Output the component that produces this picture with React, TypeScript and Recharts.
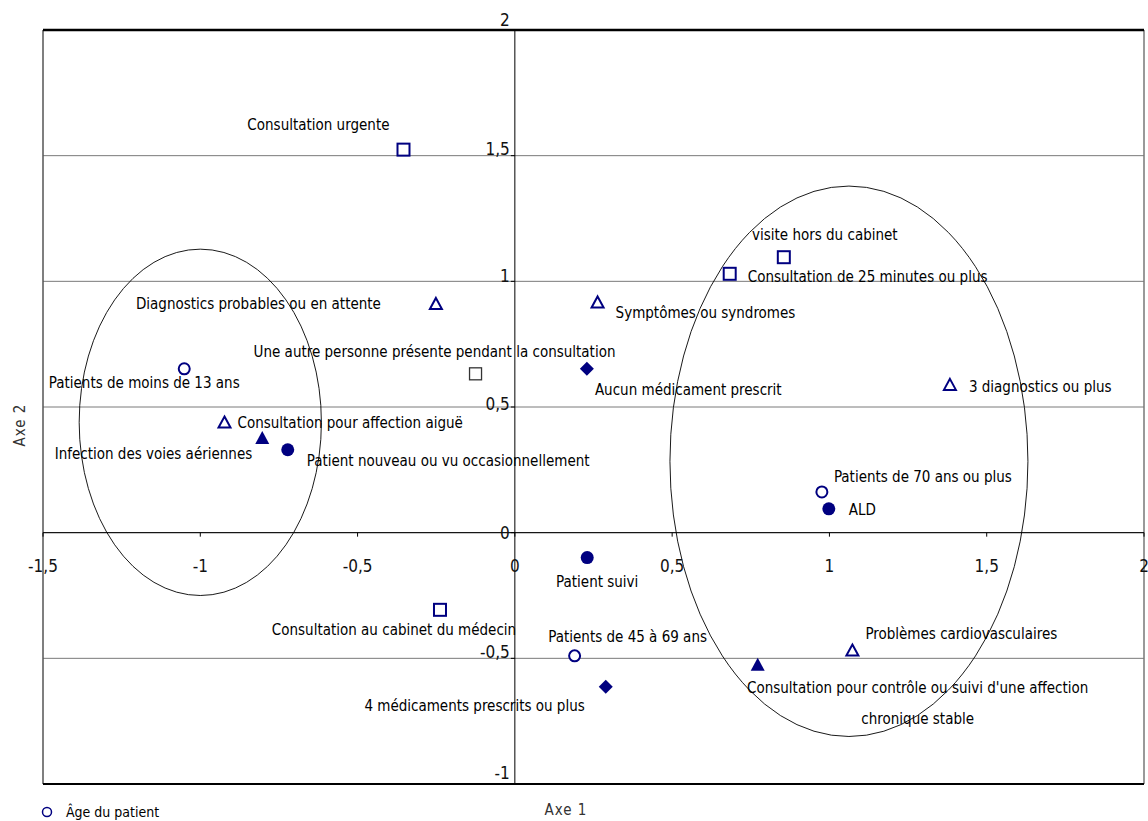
import React from "react";
import {
  ScatterChart,
  Scatter,
  XAxis,
  YAxis,
  CartesianGrid,
  ReferenceLine,
} from "recharts";

const NAVY = "#000080";
const FONT = "'Liberation Sans Narrow', 'Arial Narrow', 'DejaVu Sans Condensed', sans-serif";

// series: names + coordinates
const ageNames = ["Patients de moins de 13 ans", "Patients de 45 à 69 ans", "Patients de 70 ans ou plus"];
const ageX = [-1.051, 0.19, 0.976];
const ageY = [0.652, -0.49, 0.162];

const statutNames = ["Patient nouveau ou vu occasionnellement", "ALD", "Patient suivi"];
const statutX = [-0.722, 0.998, 0.23];
const statutY = [0.33, 0.095, -0.099];

const consultNames = [
  "Consultation urgente",
  "visite hors du cabinet",
  "Consultation de 25 minutes ou plus",
  "Consultation au cabinet du médecin",
];
const consultX = [-0.354, 0.855, 0.683, -0.238];
const consultY = [1.524, 1.096, 1.03, -0.307];

const tiersNames = ["Une autre personne présente pendant la consultation"];
const tiersX = [-0.125];
const tiersY = [0.632];

const diagNames = [
  "Diagnostics probables ou en attente",
  "Symptômes ou syndromes",
  "3 diagnostics ou plus",
  "Consultation pour affection aiguë",
  "Problèmes cardiovasculaires",
];
const diagX = [-0.251, 0.263, 1.383, -0.923, 1.073];
const diagY = [0.91, 0.916, 0.588, 0.438, -0.469];

const motifNames = [
  "Infection des voies aériennes",
  "Consultation pour contrôle ou suivi d'une affection chronique stable",
];
const motifX = [-0.803, 0.772];
const motifY = [0.377, -0.526];

const medNames = ["Aucun médicament prescrit", "4 médicaments prescrits ou plus"];
const medX = [0.229, 0.289];
const medY = [0.652, -0.613];

// the two groupings drawn as ellipses (centre and half-axes, data units)
const ellipseX = [-1.0, 1.062];
const ellipseY = [0.439, 0.284];
const ellipseRx = [0.385, 0.569];
const ellipseRy = [0.689, 1.095];

const xTicks = [-1.5, -1, -0.5, 0, 0.5, 1, 1.5, 2];
const yTicks = [-1, -0.5, 0, 0.5, 1, 1.5, 2];

const build = (names: string[], xs: number[], ys: number[]) =>
  names.map((name, i) => ({ name, x: xs[i], y: ys[i] }));

// chart geometry
const W = 1148;
const H = 821;
const M = { top: 30, right: 4, bottom: 0, left: 0 };
const Y_AXIS_W = 43;
const X_AXIS_H = 37;
const plotLeft = M.left + Y_AXIS_W;
const plotW = W - M.right - plotLeft;
const plotH = H - M.top - X_AXIS_H;
const pxX = plotW / 3.5;
const pxY = plotH / 3;
const zeroX = plotLeft + 1.5 * pxX;
const zeroY = M.top + 2 * pxY;

// label placement around each point
type Lab = { dx: number; dy: number; anchor: "start" | "middle" | "end"; lines?: string[] };
const labels: Record<string, Lab> = {
  "Consultation urgente": { dx: -14, dy: -25, anchor: "end" },
  "visite hors du cabinet": { dx: 41, dy: -22, anchor: "middle" },
  "Consultation de 25 minutes ou plus": { dx: 18, dy: 3, anchor: "start" },
  "Diagnostics probables ou en attente": { dx: -55, dy: 0, anchor: "end" },
  "Symptômes ou syndromes": { dx: 18, dy: 11, anchor: "start" },
  "Une autre personne présente pendant la consultation": { dx: -41, dy: -22, anchor: "middle" },
  "Aucun médicament prescrit": { dx: 8, dy: 21, anchor: "start" },
  "3 diagnostics ou plus": { dx: 19, dy: 2, anchor: "start" },
  "Patients de moins de 13 ans": { dx: -40, dy: 14, anchor: "middle" },
  "Consultation pour affection aiguë": { dx: 13, dy: 0, anchor: "start" },
  "Infection des voies aériennes": { dx: -10, dy: 16, anchor: "end" },
  "Patient nouveau ou vu occasionnellement": { dx: 19, dy: 11, anchor: "start" },
  "Patients de 70 ans ou plus": { dx: 12, dy: -15, anchor: "start" },
  ALD: { dx: 20, dy: 1, anchor: "start" },
  "Patient suivi": { dx: 10, dy: 24, anchor: "middle" },
  "Consultation au cabinet du médecin": { dx: -46, dy: 20, anchor: "middle" },
  "Patients de 45 à 69 ans": { dx: 53, dy: -19, anchor: "middle" },
  "Problèmes cardiovasculaires": { dx: 13, dy: -17, anchor: "start" },
  "Consultation pour contrôle ou suivi d'une affection chronique stable": {
    dx: 160,
    dy: 23,
    anchor: "middle",
    lines: ["Consultation pour contrôle ou suivi d'une affection", "chronique stable"],
  },
  "4 médicaments prescrits ou plus": { dx: -21, dy: 19, anchor: "end" },
};

// y tick labels sit a little above their gridline, as in the source figure
const yLabelLift: Record<string, number> = { "2": 10, "1.5": 7, "1": 5, "0.5": 3, "0": 0, "-0.5": 6, "-1": 11 };

type Kind = "circleOpen" | "circleFilled" | "squareOpen" | "squareGray" | "triOpen" | "triFilled" | "diamond";

const Marker = ({ kind, cx, cy }: { kind: Kind; cx: number; cy: number }) => {
  switch (kind) {
    case "circleOpen":
      return <circle cx={cx} cy={cy} r={5.5} fill="#fff" stroke={NAVY} strokeWidth={2} />;
    case "circleFilled":
      return <circle cx={cx} cy={cy} r={6.5} fill={NAVY} />;
    case "squareOpen":
      return <rect x={cx - 6} y={cy - 6} width={12} height={12} fill="#fff" stroke={NAVY} strokeWidth={2} />;
    case "squareGray":
      return <rect x={cx - 6} y={cy - 6} width={12} height={12} fill="#fff" stroke="#333" strokeWidth={1.3} />;
    case "triOpen":
      return (
        <polygon
          points={`${cx},${cy - 6} ${cx + 6},${cy + 5} ${cx - 6},${cy + 5}`}
          fill="#fff"
          stroke={NAVY}
          strokeWidth={2}
        />
      );
    case "triFilled":
      return <polygon points={`${cx},${cy - 7} ${cx + 7},${cy + 6} ${cx - 7},${cy + 6}`} fill={NAVY} />;
    case "diamond":
      return <polygon points={`${cx},${cy - 7} ${cx + 7},${cy} ${cx},${cy + 7} ${cx - 7},${cy}`} fill={NAVY} />;
  }
  return null;
};

const pointShape = (kind: Kind) => (props: any) => {
  const { cx, cy, payload } = props;
  const lab = labels[payload.name];
  const lines = lab?.lines ?? [payload.name];
  return (
    <g>
      <Marker kind={kind} cx={cx} cy={cy} />
      {lab && (
        <text
          x={cx + lab.dx}
          y={cy + lab.dy}
          textAnchor={lab.anchor}
          dominantBaseline="central"
          fontFamily={FONT}
          fontSize={15}
          fill="#000"
        >
          {lines.map((l, i) => (
            <tspan key={i} x={cx + lab.dx} dy={i === 0 ? 0 : 31}>
              {l}
            </tspan>
          ))}
        </text>
      )}
    </g>
  );
};

const ellipseShape = (props: any) => {
  const { cx, cy, payload } = props;
  return (
    <ellipse
      cx={cx}
      cy={cy}
      rx={payload.rx * pxX}
      ry={payload.ry * pxY}
      fill="none"
      stroke="#000"
      strokeWidth={0.9}
    />
  );
};

const fmt = (v: number) => String(v).replace(".", ",");

const XTick = (props: any) => {
  const { x, payload } = props;
  return (
    <g>
      <line x1={x} x2={x} y1={zeroY} y2={zeroY + 4} stroke="#000" />
      <text x={x} y={zeroY + 39} textAnchor="middle" fontFamily={FONT} fontSize={17} fill="#111">
        {fmt(payload.value)}
      </text>
    </g>
  );
};

const YTick = (props: any) => {
  const { y, payload } = props;
  const lift = yLabelLift[String(payload.value)] ?? 4;
  return (
    <g>
      <line x1={zeroX - 4} x2={zeroX} y1={y} y2={y} stroke="#000" />
      <text x={zeroX - 5} y={y + 6 - lift} textAnchor="end" fontFamily={FONT} fontSize={17} fill="#111">
        {fmt(payload.value)}
      </text>
    </g>
  );
};

export default function App() {
  const ellipses = ellipseX.map((x, i) => ({ x, y: ellipseY[i], rx: ellipseRx[i], ry: ellipseRy[i] }));
  return (
    <div style={{ position: "absolute", left: 0, top: 0, width: W, height: H, overflow: "hidden", background: "#fff" }}>
      <ScatterChart width={W} height={H} margin={M}>
        <CartesianGrid vertical={false} stroke="#7a7a7a" strokeWidth={1} />
        <XAxis
          type="number"
          dataKey="x"
          domain={[-1.5, 2]}
          ticks={xTicks}
          interval={0}
          height={X_AXIS_H}
          axisLine={false}
          tickLine={false}
          tick={<XTick />}
          allowDataOverflow
        />
        <YAxis
          type="number"
          dataKey="y"
          domain={[-1, 2]}
          ticks={yTicks}
          interval={0}
          width={Y_AXIS_W}
          axisLine={false}
          tickLine={false}
          tick={<YTick />}
          allowDataOverflow
        />
        <ReferenceLine x={-1.5} stroke="#555" strokeWidth={1.5} />
        <ReferenceLine x={2} stroke="#777" strokeWidth={1.5} />
        <ReferenceLine y={2} stroke="#000" strokeWidth={2.5} />
        <ReferenceLine y={-1} stroke="#000" strokeWidth={2} />
        <ReferenceLine y={0} stroke="#000" strokeWidth={1} />
        <ReferenceLine x={0} stroke="#000" strokeWidth={1} />
        <Scatter name="groupes" data={ellipses} shape={ellipseShape} isAnimationActive={false} legendType="none" />
        <Scatter name="Âge du patient" data={build(ageNames, ageX, ageY)} shape={pointShape("circleOpen")} isAnimationActive={false} />
        <Scatter name="Statut du patient" data={build(statutNames, statutX, statutY)} shape={pointShape("circleFilled")} isAnimationActive={false} />
        <Scatter name="Type de consultation" data={build(consultNames, consultX, consultY)} shape={pointShape("squareOpen")} isAnimationActive={false} />
        <Scatter name="Présence d'un tiers" data={build(tiersNames, tiersX, tiersY)} shape={pointShape("squareGray")} isAnimationActive={false} />
        <Scatter name="Diagnostics" data={build(diagNames, diagX, diagY)} shape={pointShape("triOpen")} isAnimationActive={false} />
        <Scatter name="Motif" data={build(motifNames, motifX, motifY)} shape={pointShape("triFilled")} isAnimationActive={false} />
        <Scatter name="Médicaments" data={build(medNames, medX, medY)} shape={pointShape("diamond")} isAnimationActive={false} />
        <text x={566} y={815} textAnchor="middle" fontFamily={FONT} fontSize={15} fill="#333" letterSpacing={1}>
          Axe 1
        </text>
        <text
          x={25}
          y={425}
          transform="rotate(-90 25 425)"
          textAnchor="middle"
          fontFamily={FONT}
          fontSize={15}
          fill="#333"
          letterSpacing={1}
        >
          Axe 2
        </text>
      </ScatterChart>
      <div
        style={{
          position: "absolute",
          left: 40,
          top: 804,
          height: 16,
          lineHeight: "16px",
          fontFamily: FONT,
          fontSize: 14,
          display: "flex",
          alignItems: "center",
          gap: 12,
        }}
      >
        <svg width={14} height={14}>
          <circle cx={7} cy={7} r={4.5} fill="#fff" stroke={NAVY} strokeWidth={1.5} />
        </svg>
        <span>Âge du patient</span>
      </div>
    </div>
  );
}
